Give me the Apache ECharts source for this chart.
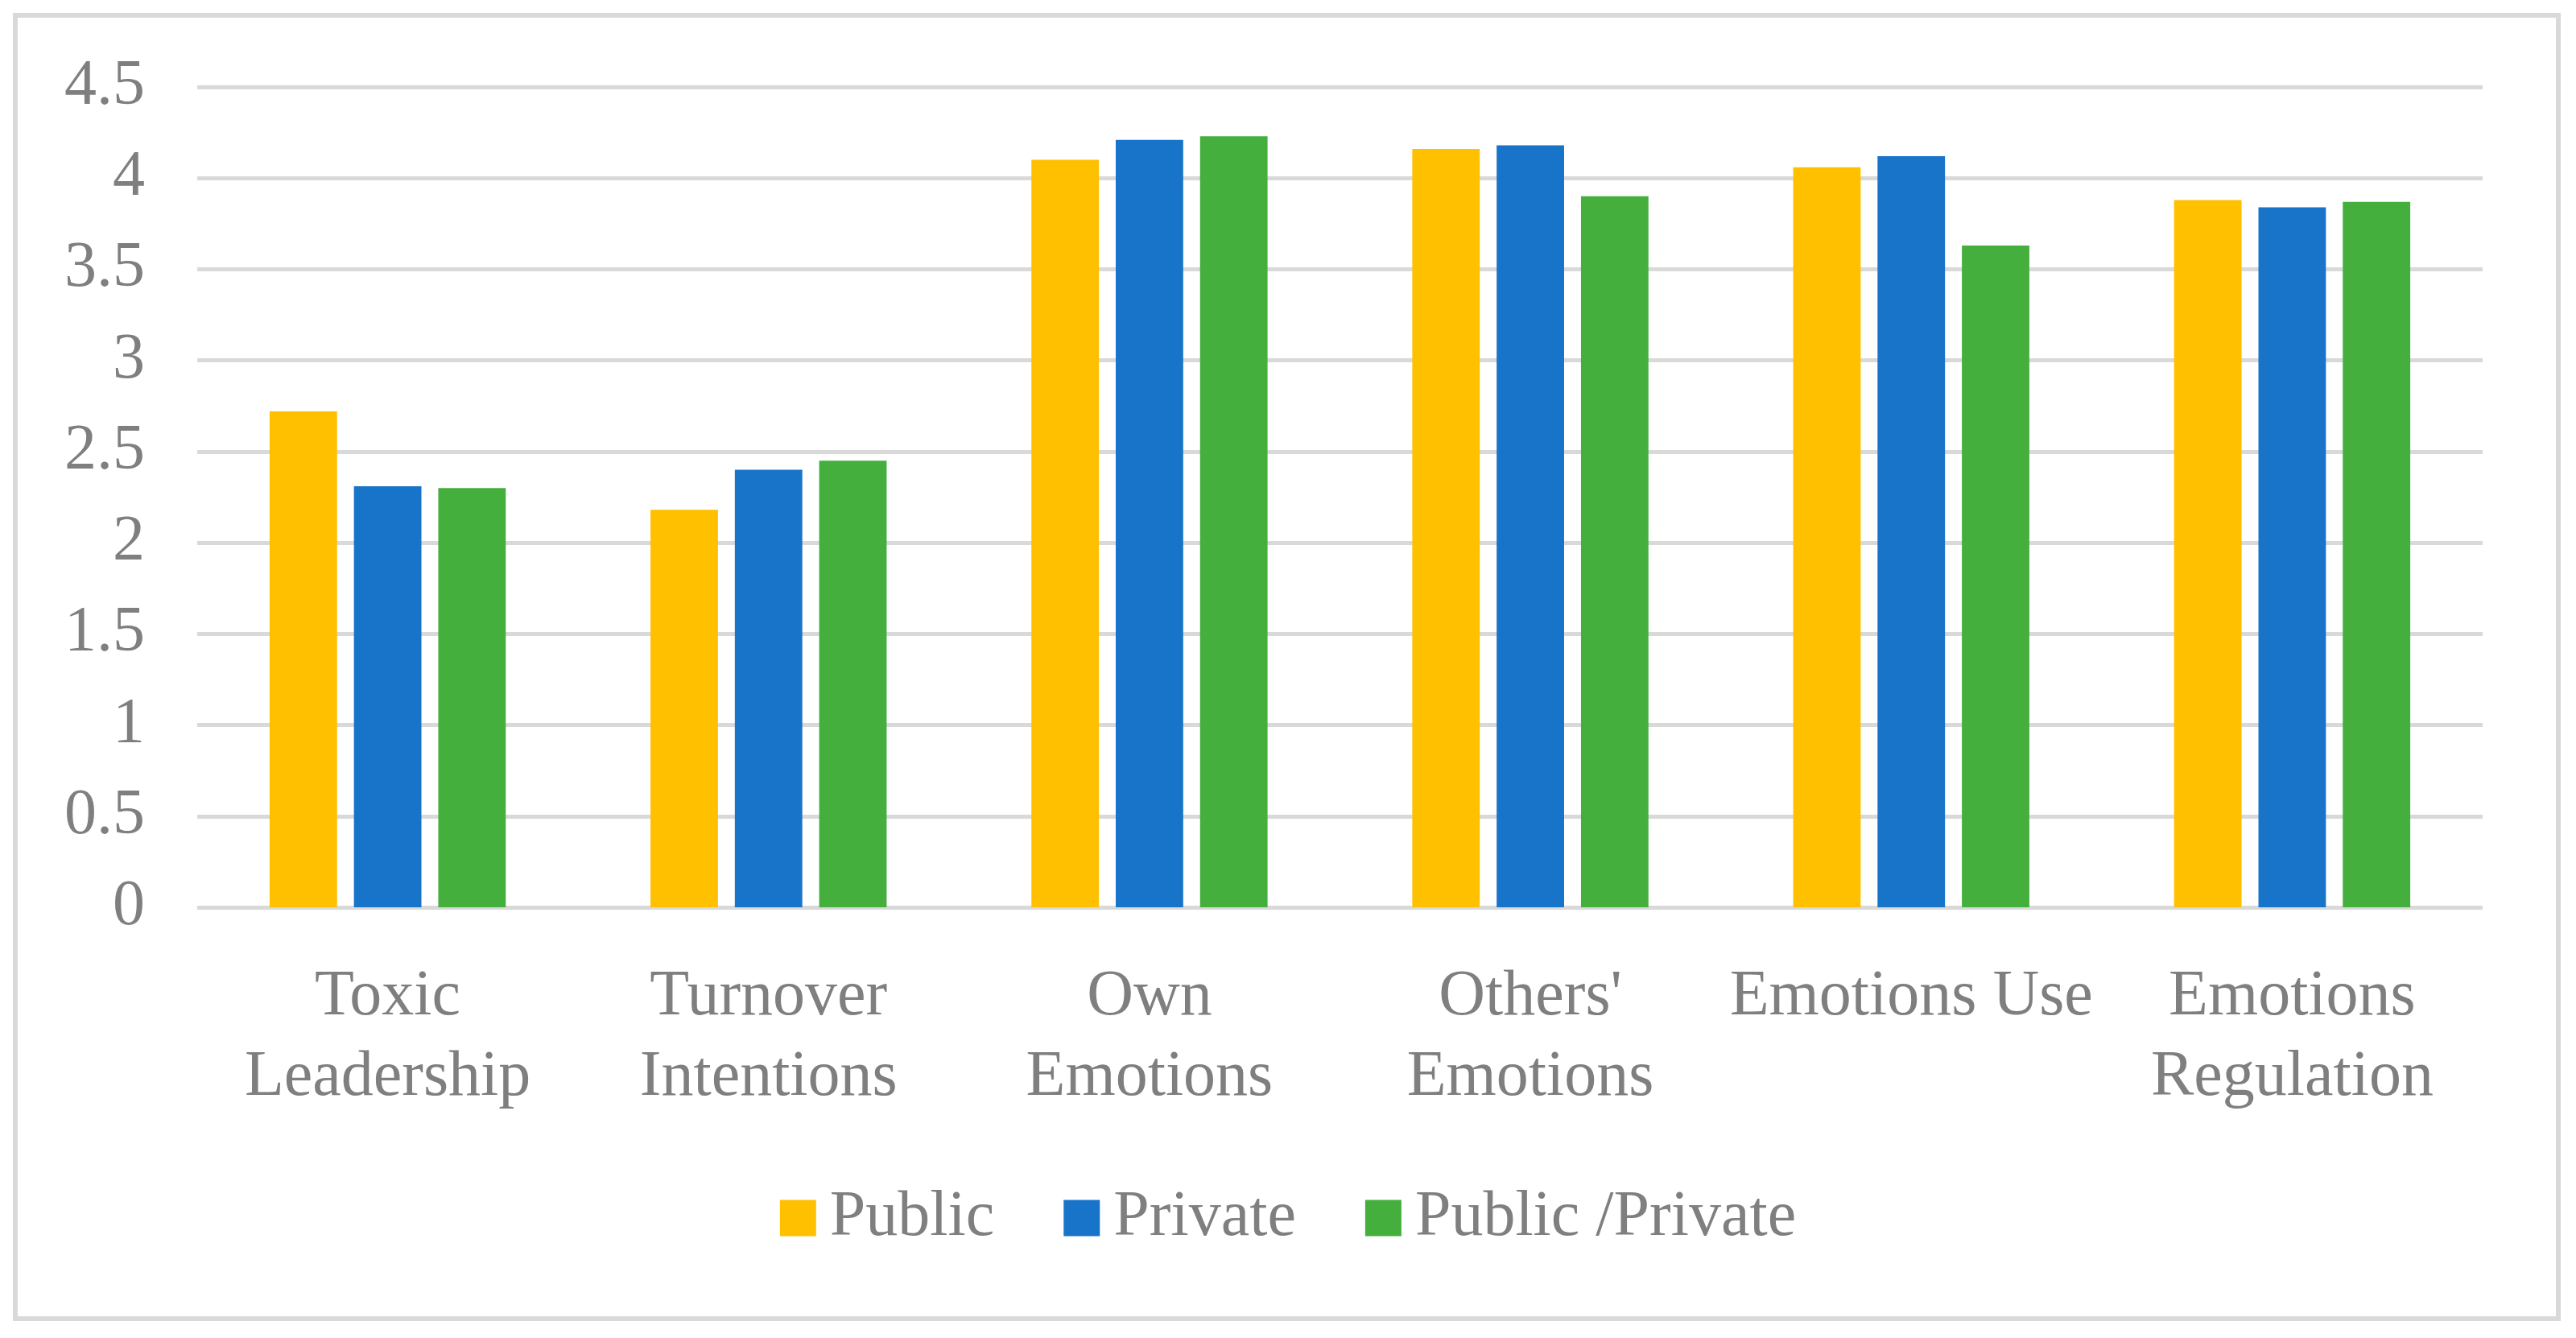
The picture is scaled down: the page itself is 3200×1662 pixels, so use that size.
<!DOCTYPE html>
<html>
<head>
<meta charset="utf-8">
<script src="https://cdn.jsdelivr.net/npm/echarts@6/dist/echarts.min.js"></script>
<style>
html,body{margin:0;padding:0;background:#fff;}
#main{width:3200px;height:1662px;}
</style>
</head>
<body>
<div id="main"></div>
<script>
const categories = ["Toxic\nLeadership", "Turnover\nIntentions", "Own\nEmotions", "Others'\nEmotions", "Emotions Use", "Emotions\nRegulation"];
const seriesNames = ["Public", "Private", "Public /Private"];
const publicValues = [2.72, 2.18, 4.10, 4.16, 4.06, 3.88];
const privateValues = [2.31, 2.40, 4.21, 4.18, 4.12, 3.84];
const mixedValues = [2.30, 2.45, 4.23, 3.90, 3.63, 3.87];
const yTicks = { min: 0, max: 4.5, interval: 0.5 };

const colors = ['#FFC000', '#1874C9', '#45AF3D'];
const textColor = '#7F7F7F';
const fontFamily = '"Liberation Serif", "DejaVu Serif", serif';
const fontSize = 80;

const chart = echarts.init(document.getElementById('main'), null, {renderer: 'canvas'});
const values = [publicValues, privateValues, mixedValues];
chart.setOption({
  animation: false,
  backgroundColor: '#fff',
  textStyle: { fontFamily: fontFamily },
  graphic: [{
    type: 'rect',
    shape: { x: 19, y: 19, width: 3159, height: 1619 },
    style: { fill: 'none', stroke: '#D9D9D9', lineWidth: 6 },
    silent: true
  }],
  grid: { left: 245, right: 116, top: 108, bottom: 535, containLabel: false },
  legend: {
    data: seriesNames,
    left: 'center',
    top: 1468,
    icon: 'rect',
    itemWidth: 45,
    itemHeight: 45,
    itemGap: 86,
    textStyle: { color: textColor, fontSize: fontSize, fontFamily: fontFamily, padding: [0, 0, 0, 12] }
  },
  xAxis: {
    type: 'category',
    data: categories,
    axisLine: { show: false },
    axisTick: { show: false },
    axisLabel: {
      color: textColor, fontSize: fontSize, fontFamily: fontFamily,
      lineHeight: 100, margin: 62, interval: 0, align: 'center'
    },
    splitLine: { show: false }
  },
  yAxis: {
    type: 'value',
    min: yTicks.min, max: yTicks.max, interval: yTicks.interval,
    axisLine: { show: false },
    axisTick: { show: false },
    axisLabel: {
      color: textColor, fontSize: fontSize, fontFamily: fontFamily, margin: 65,
      formatter: v => String(v)
    },
    splitLine: { show: true, lineStyle: { color: '#D9D9D9', width: 5 } }
  },
  series: seriesNames.map((name, i) => ({
    name: name,
    type: 'bar',
    data: values[i],
    itemStyle: { color: colors[i] },
    barGap: '25%',
    barCategoryGap: '38%'
  }))
});
</script>
</body>
</html>
